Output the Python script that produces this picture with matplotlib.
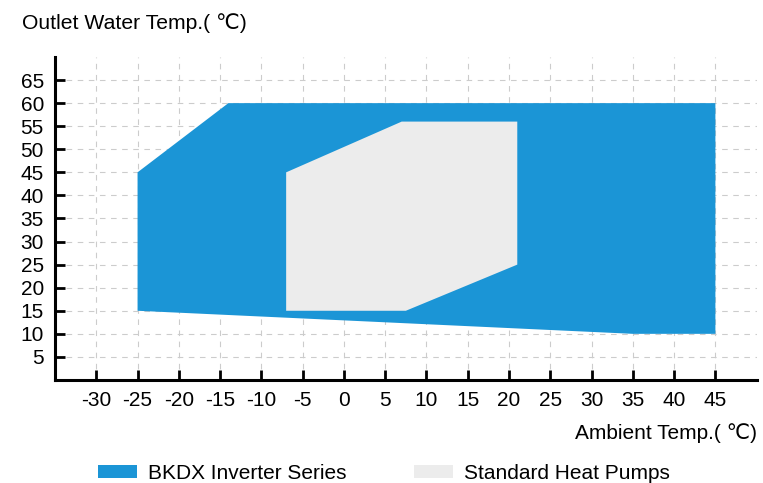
import matplotlib
matplotlib.use("Agg")
import matplotlib.pyplot as plt
from matplotlib.patches import Polygon, Patch

plt.rcParams['font.family'] = ['Liberation Sans', 'DejaVu Sans']
plt.rcParams['axes.unicode_minus'] = False

# operating envelope, ambient temp (x) vs outlet water temp (y)
bkdxX = [-25, -25, -14, 45, 45, 35]
bkdxY = [15, 45, 60, 60, 10, 10]
stdX = [-7, -7, 7, 21, 21, 7.5]
stdY = [15, 45, 56, 56, 25, 15]

xTicks = list(range(-30, 50, 5))
yTicks = list(range(5, 70, 5))

blue = "#1b95d6"
grey = "#ececec"

fig = plt.figure(figsize=(7.63, 4.83), dpi=100)
ax = fig.add_axes([0.0721, 0.2133, 0.9196, 0.6687])

ax.add_patch(Polygon(list(zip(bkdxX, bkdxY)), closed=True, facecolor=blue, edgecolor="none", zorder=2))
ax.add_patch(Polygon(list(zip(stdX, stdY)), closed=True, facecolor=grey, edgecolor="none", zorder=3))

ax.set_xlim(-35, 50)
ax.set_ylim(0, 70)
ax.set_xticks(xTicks)
ax.set_yticks(yTicks)
ax.grid(True, linestyle=(0, (5, 5)), color="#cccccc", linewidth=0.8, zorder=1)
ax.set_axisbelow(True)

for s in ["top", "right"]:
    ax.spines[s].set_visible(False)
for s in ["left", "bottom"]:
    ax.spines[s].set_linewidth(2.2)
ax.tick_params(direction="in", length=7, width=2, labelsize=15, pad=8)

fig.text(0.029, 0.952, "Outlet Water Temp.( \u2103)", fontsize=15.2, va="center", ha="left")
fig.text(0.992, 0.103, "Ambient Temp.( \u2103)", fontsize=15, va="center", ha="right")

handles = [Patch(facecolor=blue, edgecolor="none", label="BKDX Inverter Series"),
           Patch(facecolor=grey, edgecolor="none", label="Standard Heat Pumps")]
fig.legend(handles=handles, loc="center left", bbox_to_anchor=(0.1284, 0.02), ncol=2,
           frameon=False, fontsize=15, handlelength=1.87, handleheight=0.55,
           handletextpad=0.53, columnspacing=3.25, borderpad=0, borderaxespad=0)

fig.savefig("out.png", dpi=100)
